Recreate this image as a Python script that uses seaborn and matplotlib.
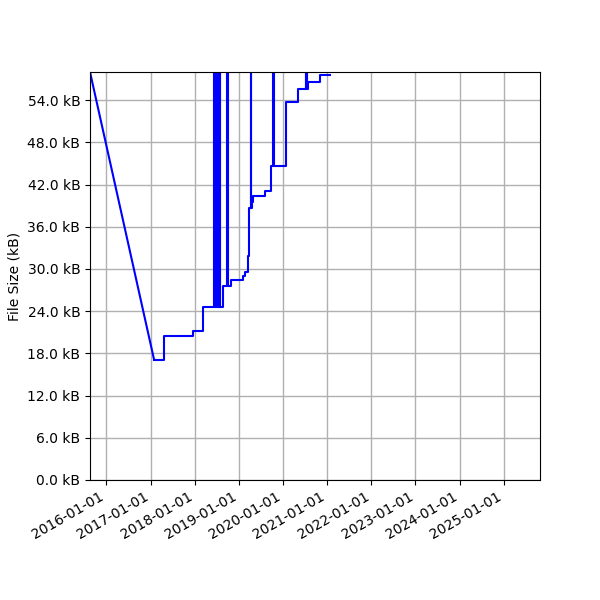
import seaborn as sns
import matplotlib.pyplot as plt
import matplotlib.dates as mdates
import matplotlib.ticker as mticker
import pandas as pd

# file size history (kB); values above the axis top are short-lived spikes
dates = [
    "2015-08-19", "2017-01-30", "2017-04-22", "2017-12-21", "2018-03-07",
    "2018-06-10", "2018-06-14", "2018-06-18", "2018-06-22", "2018-06-26",
    "2018-06-30", "2018-07-04", "2018-07-08", "2018-07-12", "2018-07-16",
    "2018-07-28", "2018-08-01", "2018-08-21", "2018-09-28", "2018-10-01",
    "2018-10-31", "2019-02-07", "2019-02-24", "2019-03-16", "2019-03-29",
    "2019-04-09", "2019-04-12", "2019-04-18", "2019-04-26", "2019-08-06",
    "2019-09-24", "2019-10-13", "2019-10-17", "2020-01-26", "2020-05-02",
    "2020-07-10", "2020-07-13", "2020-07-18", "2020-07-21", "2020-07-29",
    "2020-11-03", "2021-01-24",
]
sizes = [
    58.0, 17.1, 20.5, 21.2, 24.65,
    70.0, 24.65, 70.0, 24.65, 70.0,
    24.65, 70.0, 24.65, 70.0, 24.65,
    70.0, 24.65, 27.6, 70.0, 27.6,
    28.4, 29.0, 29.6, 31.9, 38.6,
    70.0, 38.6, 39.5, 40.4, 41.1,
    44.65, 70.0, 44.65, 53.8, 55.6,
    70.0, 55.6, 70.0, 55.6, 56.55,
    57.6, 57.6,
]

df = pd.DataFrame({"date": pd.to_datetime(dates), "size": sizes})

fig, ax = plt.subplots(figsize=(6, 6), dpi=100)

# first commit joins the history with a straight segment, the rest is stepwise
sns.lineplot(data=df.iloc[:2], x="date", y="size", color="blue",
             linewidth=1.5, estimator=None, ax=ax)
sns.lineplot(data=df.iloc[1:], x="date", y="size", color="blue",
             linewidth=1.5, estimator=None, drawstyle="steps-post", ax=ax)

ax.set_xlim(pd.Timestamp("2015-08-19"), pd.Timestamp("2025-10-27"))
ax.set_ylim(0, 58.0)
ax.yaxis.set_major_locator(mticker.MultipleLocator(6))
ax.yaxis.set_major_formatter(mticker.FuncFormatter(lambda v, _: f"{v:.1f} kB"))
ax.xaxis.set_major_locator(mdates.YearLocator())
ax.xaxis.set_major_formatter(mdates.DateFormatter("%Y-%m-%d"))

ax.set_xlabel("")
ax.set_ylabel("File Size (kB)")
ax.grid(True, color="#b0b0b0", linewidth=1.0)
ax.set_axisbelow(True)

fig.autofmt_xdate()
fig.subplots_adjust(left=0.15, right=0.9, top=0.88, bottom=0.2)
fig.savefig("out.png", dpi=100)
